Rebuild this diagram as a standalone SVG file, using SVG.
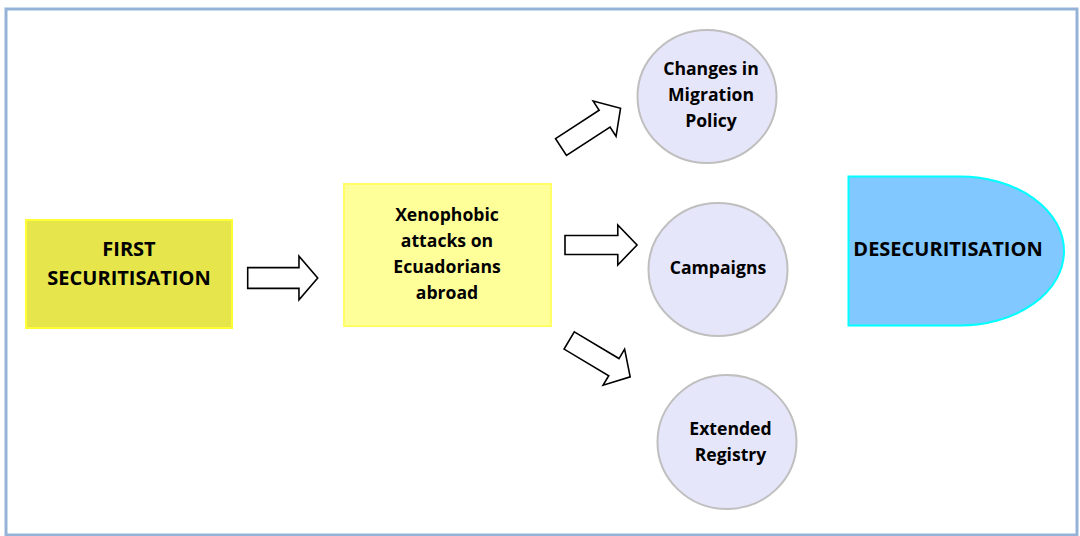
<svg xmlns="http://www.w3.org/2000/svg" width="1080" height="536" viewBox="0 0 1080 536">
<defs>
<style>
.t{font-family:"Open Sans","Liberation Sans",sans-serif;font-weight:bold;fill:#000;text-anchor:middle}
.big{font-size:20px}
.sm{font-size:17.6px}
.circ{fill:#e6e6fa;stroke:#bfbfbf;stroke-width:2}
.arr{fill:#fff;stroke:#000;stroke-width:1.6;stroke-linejoin:miter}
</style>
<path id="arrow" d="M0,-10 L52,-10 L52,-21 L71,0 L52,21 L52,10 L0,10 Z"/>
</defs>
<rect width="1080" height="536" fill="#fff"/>
<rect x="6" y="9" width="1071" height="526" fill="#fff" stroke="#95b3d7" stroke-width="3"/>
<g id="first">
<rect x="26" y="220" width="206" height="108" fill="#e6e64c" stroke="#ffff33" stroke-width="2"/>
<text class="t big" x="129" y="256">FIRST</text>
<text class="t big" x="129" y="285">SECURITISATION</text>
</g>
<g id="xeno">
<rect x="344" y="184" width="207" height="142" fill="#ffff99" stroke="#ffff66" stroke-width="2"/>
<text class="t sm" x="447" y="220.5">Xenophobic</text>
<text class="t sm" x="447" y="246.5">attacks on</text>
<text class="t sm" x="447" y="272.5">Ecuadorians</text>
<text class="t sm" x="447" y="298.5">abroad</text>
</g>
<g id="changes">
<ellipse class="circ" cx="707" cy="96.5" rx="69.5" ry="66.5"/>
<text class="t sm" x="711" y="75">Changes in</text>
<text class="t sm" x="711" y="101">Migration</text>
<text class="t sm" x="711" y="127">Policy</text>
</g>
<g id="campaigns">
<ellipse class="circ" cx="718" cy="269.5" rx="69.5" ry="66.5"/>
<text class="t sm" x="718" y="273.5">Campaigns</text>
</g>
<g id="extended">
<ellipse class="circ" cx="727" cy="442" rx="69.5" ry="67"/>
<text class="t sm" x="730.5" y="435">Extended</text>
<text class="t sm" x="730.5" y="461">Registry</text>
</g>
<g id="desec">
<path d="M848.5,176.5 H960 A104,74.5 0 0 1 960,325.5 H848.5 Z" fill="#80c8ff" stroke="#00ffff" stroke-width="2"/>
<text class="t big" x="948" y="256">DESECURITISATION</text>
</g>
<g id="connectors">
<use href="#arrow" class="arr" transform="translate(247.7,278) scale(0.986,1.04)"/>
<use href="#arrow" class="arr" transform="translate(565,245) scale(1.015,0.95)"/>
<use href="#arrow" class="arr" transform="translate(561,147) rotate(-33)"/>
<use href="#arrow" class="arr" transform="translate(569.2,340.5) rotate(30.8)"/>
</g>
</svg>
